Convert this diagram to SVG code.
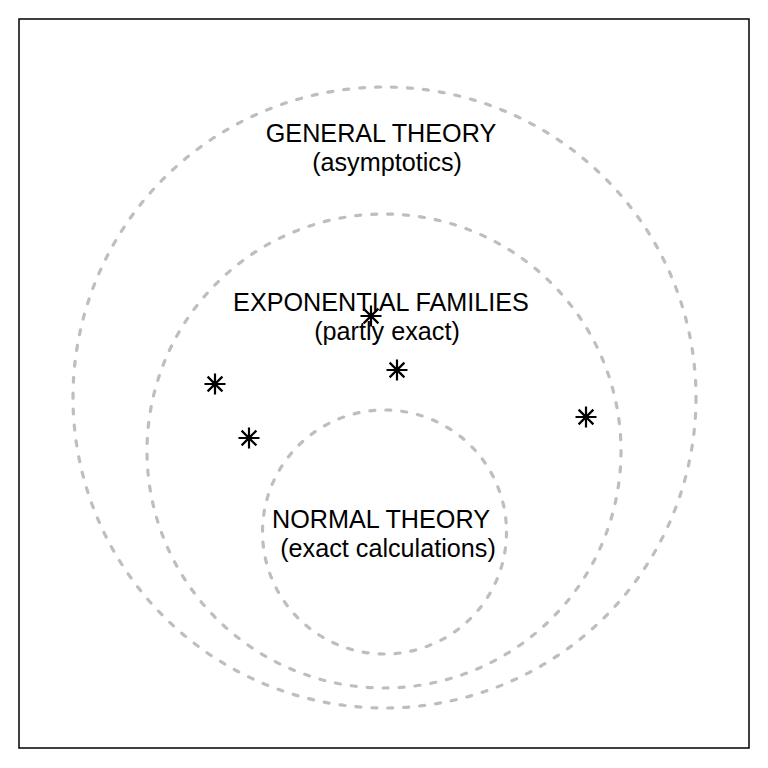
<svg xmlns="http://www.w3.org/2000/svg" width="768" height="768" viewBox="0 0 768 768">
<defs>
<style>
.ring{fill:none;stroke:#bebebe;stroke-width:3.2;stroke-dasharray:5 11;stroke-linecap:round}
.lbl{font-family:"Liberation Sans",Arial,Helvetica,sans-serif;font-size:25.2px;fill:#000;text-anchor:middle}
.star{stroke:#000;stroke-width:2.2;fill:none}
</style>
<g id="star">
<path class="star" d="M-10.5 0H10.5M0 -10.5V10.5M-7.4 -7.4L7.4 7.4M-7.4 7.4L7.4 -7.4"/>
</g>
</defs>
<rect x="0" y="0" width="768" height="768" fill="#fff"/>
<rect x="19" y="19" width="730" height="729" fill="none" stroke="#000" stroke-width="1.5"/>
<g id="general">
<ellipse class="ring" cx="384.5" cy="397.5" rx="311.5" ry="310.5"/>
<text class="lbl" x="381" y="142">GENERAL THEORY</text>
<text class="lbl" x="387" y="171">(asymptotics)</text>
</g>
<g id="exponential">
<circle class="ring" cx="384" cy="451" r="237"/>
<text class="lbl" x="381" y="311">EXPONENTIAL FAMILIES</text>
<text class="lbl" x="387" y="340">(partly exact)</text>
</g>
<g id="normal">
<circle class="ring" cx="384.5" cy="532" r="122"/>
<text class="lbl" x="381" y="528">NORMAL THEORY</text>
<text class="lbl" x="388" y="557">(exact calculations)</text>
</g>
<g id="points">
<use href="#star" x="215" y="384"/>
<use href="#star" x="249" y="438"/>
<use href="#star" x="371" y="316"/>
<use href="#star" x="397" y="370"/>
<use href="#star" x="586" y="417"/>
</g>
</svg>
